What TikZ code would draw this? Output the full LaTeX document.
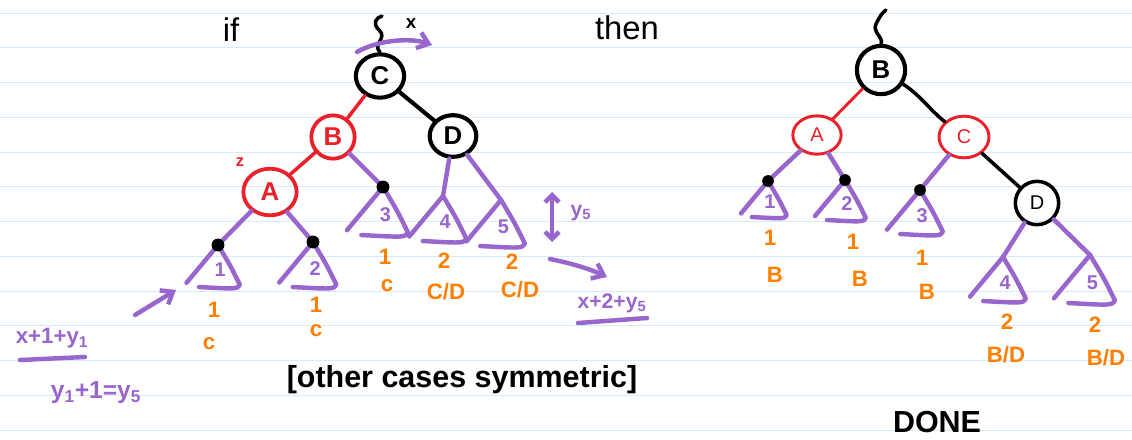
\documentclass[tikz,border=0pt]{standalone}
\usepackage{fontspec}
\setmainfont{Liberation Sans}
\usetikzlibrary{arrows.meta}
\usetikzlibrary{shapes.geometric}

\definecolor{ruleblue}{RGB}{214,234,248}
\definecolor{penpurple}{RGB}{152,102,204}
\definecolor{penred}{RGB}{234,32,42}
\definecolor{penorange}{RGB}{255,128,0}

\tikzset{
  blacknode/.style={ellipse, draw=black, line width=3.5pt, minimum width=1.45cm,
    minimum height=1.3cm, inner sep=0pt, font=\fontsize{22}{22}\selectfont\bfseries},
  rednode/.style={blacknode, draw=penred, text=penred, line width=3.2pt},
  smallnode/.style={line width=2.5pt, minimum width=1.45cm, minimum height=1.15cm,
    font=\fontsize{17}{17}\selectfont},
  treeline/.style={penpurple, line width=3.8pt, line cap=round, line join=round},
  blackline/.style={black, line width=3.5pt, line cap=round},
  redline/.style={penred, line width=3pt, line cap=round},
  count/.style={text=penorange, font=\fontsize{19}{19}\selectfont\bfseries, inner sep=1pt},
  note/.style={font=\fontsize{22}{22}\selectfont\bfseries, inner sep=1pt},
  purplenote/.style={note, text=penpurple, font=\fontsize{18}{18}\selectfont\bfseries},
  barb/.style={treeline, -{Straight Barb[length=9pt,width=14pt]}}
}

% subtree triangle hanging from apex (#1) at (#2,#3), height #4, label #5
\newcommand{\subtree}[5]{%
  \coordinate (#1) at (#2,#3);
  \draw[treeline] (#1) -- ({#2-0.75*#4},{#3+0.9*#4});
  \draw[treeline] (#1) .. controls ({#2+0.3*#4},{#3+0.5*#4}) .. ({#2+0.52*#4},{#3+0.95*#4})
    .. controls ({#2+0.45*#4},{#3+1.05*#4}) .. ({#2-0.45*#4},{#3+1.0*#4});
  \node[text=penpurple, font=\fontsize{17}{17}\selectfont\bfseries, inner sep=0pt] (#1n)
    at ({#2+0.05*#4},{#3+0.58*#4}) {#5};
}

\begin{document}
\begin{tikzpicture}[x=0.03cm, y=-0.03cm]
  \fill[white] (0,0) rectangle (1132,439);
  \useasboundingbox (0,0) rectangle (1132,439);
  \foreach \i in {0,...,12}
    \draw[ruleblue, line width=0.8pt] (0,{13+34.75*\i}) -- (1132,{13+34.75*\i});

  %% before
  \node[note, font=\fontsize{28}{28}\selectfont] (if) at (231,30) {if};
  \node[note, font=\fontsize{28}{28}\selectfont] (then) at (627,28) {then};

  \node[blacknode] (C) at (380,76) {C};
  \node[rednode, minimum width=1.3cm, minimum height=1.3cm] (B) at (333,137) {B};
  \node[blacknode, minimum width=1.4cm, minimum height=1.25cm] (D) at (453,136) {D};
  \node[rednode, minimum width=1.6cm, minimum height=1.4cm] (A) at (270,192) {A};

  \coordinate (top1) at (382,16);
  \draw[blackline, line width=3pt] (C.north) .. controls (372,44) and (388,38) .. (379,30)
    .. controls (372,23) and (376,18) .. (top1);
  \node[note, font=\fontsize{16}{16}\selectfont\bfseries] (x) at (411,24) {x};
  \draw[barb] (357,52) .. controls (380,39) and (412,38) .. (432,45);

  \draw[redline] (C) -- (B);
  \draw[redline] (B) -- (A);
  \draw[blackline] (C) -- (D);
  \node[text=penred, font=\fontsize{14}{14}\selectfont\bfseries] (z) at (240,162) {z};

  \subtree{s1}{218}{245}{42}{1}
  \subtree{s2}{313}{242}{45}{2}
  \subtree{s3}{383}{187}{48}{3}
  \subtree{s4}{443}{196}{45}{4}
  \subtree{s5}{501}{200}{46}{5}
  \draw[treeline] (A) -- (s1);
  \draw[treeline] (A) -- (s2);
  \draw[treeline] (B) -- (s3);
  \draw[treeline] (D) -- (s4);
  \draw[treeline] (D) -- (s5);
  \foreach \s in {s1,s2,s3}
    \fill (\s) circle (5.5pt);

  \node[count] (c1a) at (214,310) {1};
  \node[count] (c1b) at (209,344) {c};
  \node[count] (c2a) at (316,305) {1};
  \node[count] (c2b) at (316,331) {c};
  \node[count] (c3a) at (385,257) {1};
  \node[count] (c3b) at (387,286) {c};
  \node[count] (c4a) at (444,261) {2};
  \node[count] (c4b) at (446,292) {C/D};
  \node[count] (c5a) at (512,262) {2};
  \node[count] (c5b) at (520,290) {C/D};

  \coordinate (hi) at (552,192);
  \coordinate (lo) at (552,242);
  \draw[treeline, {Straight Barb[length=6pt,width=12pt]}-{Straight Barb[length=6pt,width=12pt]}] (hi) -- (lo);
  \node[purplenote] (y5) at (581,213) {y\textsubscript{5}};

  \node[purplenote] (sum2) at (612,303) {x+2+y\textsubscript{5}};
  \draw[treeline] (578,323) -- (647,318);
  \draw[barb] (550,259) .. controls (575,264) and (592,270) .. (607,277);

  \node[purplenote, font=\fontsize{19}{19}\selectfont\bfseries] (sum1) at (52,338) {x+1+y\textsubscript{1}};
  \draw[treeline] (20,360) -- (85,357);
  \node[purplenote, font=\fontsize{21}{21}\selectfont\bfseries] (eq) at (96,393) {y\textsubscript{1}+1=y\textsubscript{5}};
  \draw[barb] (135,315) -- (176,290);

  \node[note, font=\fontsize{26}{26}\selectfont\bfseries] (sym) at (462,380) {[other cases symmetric]};

  %% after
  \node[blacknode, minimum width=1.45cm, minimum height=1.45cm] (B2) at (881,70) {B};
  \node[rednode, smallnode] (A2) at (817,135) {A};
  \node[rednode, smallnode, minimum width=1.5cm, minimum height=1.25cm] (C2) at (964,137) {C};
  \node[blacknode, smallnode, minimum width=1.3cm, minimum height=1.3cm, line width=3pt] (D2) at (1037,203) {D};

  \coordinate (top2) at (886,10);
  \draw[blackline, line width=3pt] (B2.north) .. controls (884,38) and (872,32) .. (876,24)
    .. controls (880,16) and (882,13) .. (top2);
  \draw[redline, line width=2.5pt] (B2) -- (A2);
  \draw[blackline, line width=3pt] (B2) .. controls (920,95) and (930,110) .. (C2);
  \draw[blackline, line width=3pt] (C2) -- (D2);

  \subtree{r1}{768}{181}{36}{1}
  \subtree{r2}{845}{180}{40}{2}
  \subtree{r3}{920}{190}{44}{3}
  \subtree{r4}{1003}{257}{44}{4}
  \subtree{r5}{1090}{255}{48}{5}
  \draw[treeline] (A2) -- (r1);
  \draw[treeline] (A2) -- (r2);
  \draw[treeline] (C2) -- (r3);
  \draw[treeline] (D2) -- (r4);
  \draw[treeline] (D2) -- (r5);
  \foreach \s in {r1,r2,r3}
    \fill (\s) circle (5pt);

  \node[count] (d1a) at (770,238) {1};
  \node[count] (d1b) at (775,275) {B};
  \node[count] (d2a) at (853,242) {1};
  \node[count] (d2b) at (860,279) {B};
  \node[count] (d3a) at (922,258) {1};
  \node[count] (d3b) at (927,292) {B};
  \node[count] (d4a) at (1007,322) {2};
  \node[count] (d4b) at (1006,355) {B/D};
  \node[count] (d5a) at (1095,325) {2};
  \node[count] (d5b) at (1106,358) {B/D};

  \node[note, font=\fontsize{26}{26}\selectfont\bfseries] (done) at (937,422) {DONE};
\end{tikzpicture}
\end{document}
